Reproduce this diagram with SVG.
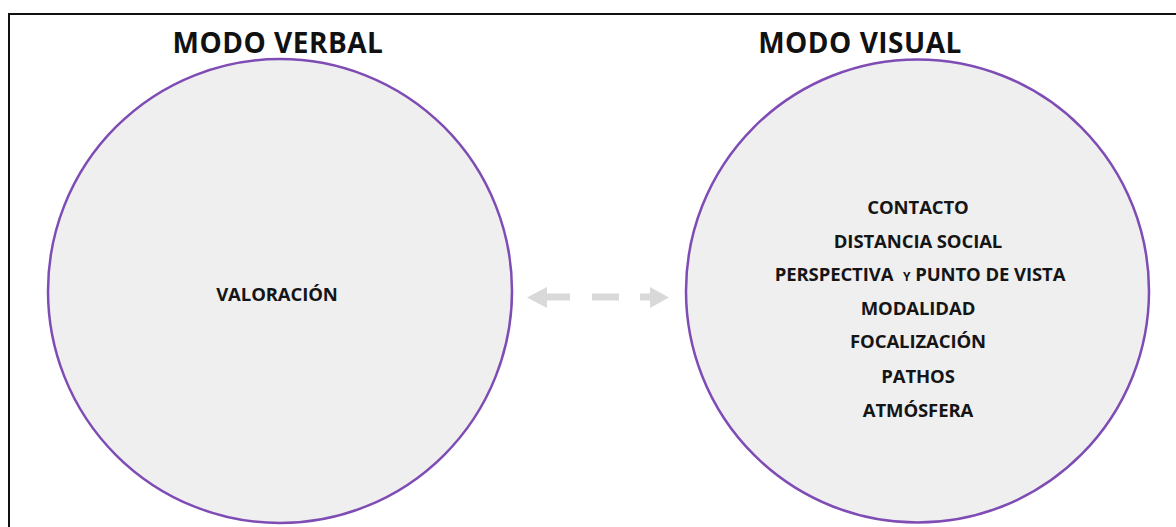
<svg xmlns="http://www.w3.org/2000/svg" width="1176" height="527" viewBox="0 0 1176 527">
  <style>
    .circle { fill: #efeff0; stroke: #7e4cb4; stroke-width: 2.5; }
    .title { font-family: "Open Sans", "Liberation Sans", sans-serif; font-weight: 700; font-size: 28px; fill: #111; text-anchor: middle; letter-spacing: 0.5px; }
    .item { font-family: "Open Sans", "Liberation Sans", sans-serif; font-weight: 700; font-size: 18.5px; fill: #151515; text-anchor: middle; letter-spacing: -0.1px; }
    .arrow { fill: #d9d9d9; }
  </style>
  <rect x="0" y="0" width="1176" height="527" fill="#ffffff"/>
  <path d="M9,527 V14 H1176" fill="none" stroke="#111" stroke-width="2"/>
  <g id="modo-verbal">
    <circle class="circle" cx="280" cy="291" r="232"/>
    <text class="title" x="278" y="53">MODO VERBAL</text>
    <text class="item" x="277" y="301">VALORACIÓN</text>
  </g>
  <g id="modo-visual">
    <circle class="circle" cx="917.5" cy="291" r="231.5"/>
    <text class="title" x="860" y="53">MODO VISUAL</text>
    <text class="item" x="918" y="214">CONTACTO</text>
    <text class="item" x="918" y="248">DISTANCIA SOCIAL</text>
    <text class="item" x="920" y="281">PERSPECTIVA <tspan font-size="12" dx="5">Y</tspan> PUNTO DE VISTA</text>
    <text class="item" x="918" y="315">MODALIDAD</text>
    <text class="item" x="918" y="348">FOCALIZACIÓN</text>
    <text class="item" x="918" y="383">PATHOS</text>
    <text class="item" x="918" y="417">ATMÓSFERA</text>
  </g>
  <g id="connectors">
    <path class="arrow" d="M527,297.5 L547,287 L547,293.5 L570,293.5 L570,300.5 L547,300.5 L547,308 Z"/>
    <rect class="arrow" x="592" y="293.5" width="27" height="7"/>
    <path class="arrow" d="M669,297.5 L650,287 L650,293.5 L640,293.5 L640,300.5 L650,300.5 L650,308 Z"/>
  </g>
</svg>
